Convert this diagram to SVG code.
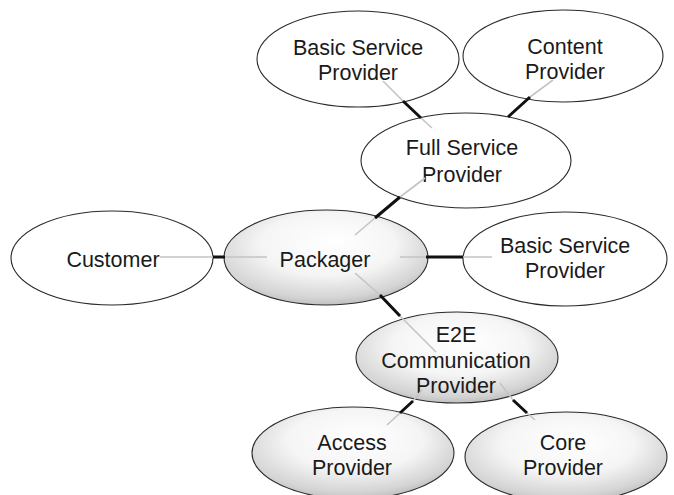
<svg xmlns="http://www.w3.org/2000/svg" width="674" height="495" viewBox="0 0 674 495">
<defs>
<radialGradient id="g" cx="0.47" cy="0.4" r="0.66" fx="0.55" fy="0.32">
<stop offset="0" stop-color="#ffffff"/>
<stop offset="0.5" stop-color="#f5f5f5"/>
<stop offset="0.82" stop-color="#d4d4d4"/>
<stop offset="1" stop-color="#b0b0b0"/>
</radialGradient>
<style>
.n{stroke:#2a2a2a;stroke-width:1.1;fill:#fff}
.s{fill:url(#g)}
.t{font-family:"Liberation Sans",Arial,sans-serif;font-size:21.5px;fill:#1a1a1a;text-anchor:middle}
.k{stroke:#111;stroke-width:3;fill:none}
.f{stroke:#c4c4c4;stroke-width:1.6;fill:none}
</style>
</defs>
<rect width="674" height="495" fill="#fff"/>
<g id="bsp-top"><ellipse class="n" cx="358" cy="59" rx="101" ry="48"/><text class="t" x="358" y="55">Basic Service</text><text class="t" x="358" y="80">Provider</text></g>
<g id="content"><ellipse class="n" cx="563" cy="56" rx="100" ry="46"/><text class="t" x="565" y="54">Content</text><text class="t" x="565" y="79">Provider</text></g>
<g id="fsp"><ellipse class="n" cx="466" cy="160.5" rx="105" ry="47.5"/><text class="t" x="462" y="155">Full Service</text><text class="t" x="462" y="182">Provider</text></g>
<g id="customer"><ellipse class="n" cx="112" cy="258" rx="101" ry="47"/><text class="t" x="113" y="267">Customer</text></g>
<g id="packager"><ellipse class="n s" cx="326" cy="257.5" rx="102" ry="47.5"/><text class="t" x="325" y="267">Packager</text></g>
<g id="bsp-right"><ellipse class="n" cx="565" cy="259" rx="102" ry="47"/><text class="t" x="565" y="253">Basic Service</text><text class="t" x="565" y="278">Provider</text></g>
<g id="e2e"><ellipse class="n s" cx="457" cy="357.5" rx="101" ry="45.5"/><text class="t" x="456" y="342">E2E</text><text class="t" x="456" y="368">Communication</text><text class="t" x="456" y="393">Provider</text></g>
<g id="access"><ellipse class="n s" cx="353" cy="453" rx="101" ry="46"/><text class="t" x="352" y="450">Access</text><text class="t" x="352" y="475">Provider</text></g>
<g id="core"><ellipse class="n s" cx="566" cy="457" rx="101" ry="45"/><text class="t" x="563" y="450">Core</text><text class="t" x="563" y="475">Provider</text></g>
<g id="connectors">
<path class="f" d="M383,81L403,101M421,118L432,128M553,80L530,97M425,178L400,197M375,218L355,235M160,257H213M225,257H267M400,257H426M463,257H492M355,273L380,295M400,316L436,352M422,390L413,401M400,413L387,425M500,383L513,400M527,413L535,420"/>
<path class="k" d="M403,101L421,118M530,97L508,117M400,197L375,218M213,257H225M426,257H463M380,295L400,316M413,401L400,413M513,400L527,413"/>
</g>
</svg>
